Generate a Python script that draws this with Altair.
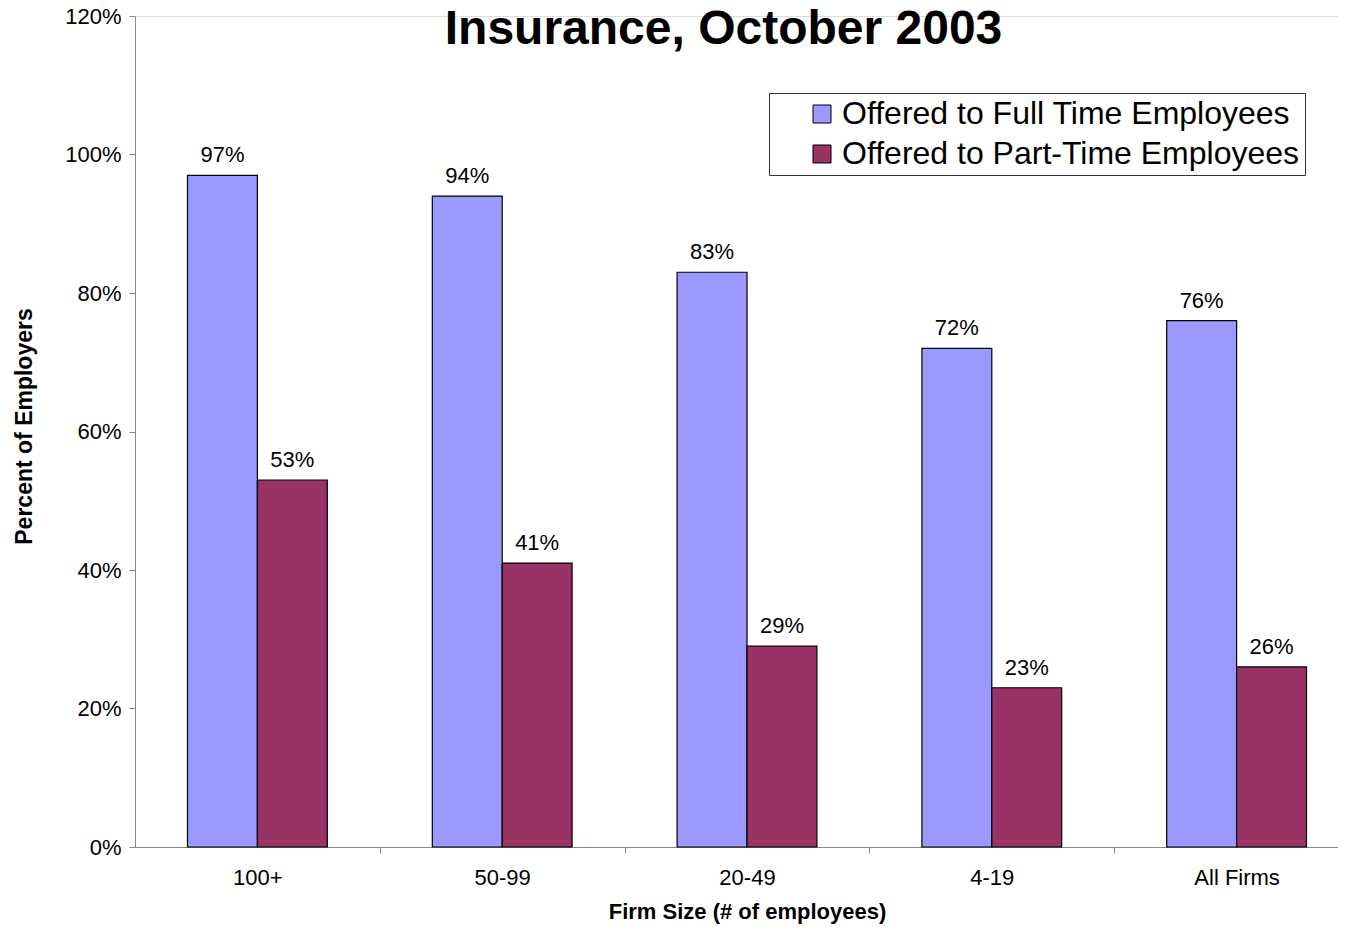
import altair as alt
import pandas as pd

categories = ["100+", "50-99", "20-49", "4-19", "All Firms"]
full_time = [97, 94, 83, 72, 76]
part_time = [53, 41, 29, 23, 26]
series = ["Offered to Full Time Employees", "Offered to Part-Time Employees"]
colors = ["#9999FF", "#993366"]

rows = []
for c, f, p in zip(categories, full_time, part_time):
    rows.append({"cat": c, "series": series[0], "val": f / 100})
    rows.append({"cat": c, "series": series[1], "val": p / 100})
df = pd.DataFrame(rows)

FONT = "Liberation Sans"
STEP = 1224 / len(categories)

x_enc = alt.X("cat:N", sort=categories,
              scale=alt.Scale(range=[0, 1224], paddingInner=0.429, paddingOuter=0.2145),
              axis=alt.Axis(title="Firm Size (# of employees)", labelAngle=0, grid=False,
                            tickOffset=STEP / 2, labelOffset=-STEP / 2,
                            labelFontSize=22, labelPadding=14, tickSize=6,
                            titleFontSize=22, titleFontWeight="bold", titlePadding=13))
xo = alt.XOffset("series:N", sort=series)
y_enc = alt.Y("val:Q", scale=alt.Scale(domain=[0, 1.2], nice=False),
              axis=alt.Axis(title="Percent of Employers", format=".0%", values=[0, 0.2, 0.4, 0.6, 0.8, 1.0, 1.2],
                            grid=False, labelFontSize=22, labelPadding=8, tickSize=6,
                            titleFontSize=23, titleFontWeight="bold", titlePadding=28, titleY=410))

bars = alt.Chart(df).mark_bar(stroke="black", strokeWidth=1.2).encode(
    x=x_enc, xOffset=xo, y=y_enc,
    color=alt.Color("series:N", sort=series,
                    scale=alt.Scale(domain=series, range=colors),
                    legend=alt.Legend(title=None, orient="none", legendX=634, legendY=77,
                                      padding=5, symbolOffset=32, symbolType="square",
                                      symbolSize=324, symbolStrokeColor="black", symbolStrokeWidth=1,
                                      labelFontSize=32, labelOffset=4, rowPadding=8,
                                      strokeColor="#333", fillColor="white",
                                      labelLimit=1000)),
)

labels = alt.Chart(df).mark_text(fontSize=22, dy=-13, baseline="alphabetic", font=FONT, color="black").encode(
    x=alt.X("cat:N", sort=categories), xOffset=xo, y="val:Q",
    text=alt.Text("val:Q", format=".0%"),
)

chart = alt.layer(bars, labels).properties(
    width=1203, height=831,
    padding={"left": 127, "top": 8, "right": 0, "bottom": 78},
    autosize=alt.AutoSizeParams(type="none"),
    title=alt.TitleParams("Insurance, October 2003", fontSize=48, fontWeight="bold",
                          anchor="middle", frame="group", offset=0, dx=-13, dy=49, font=FONT),
).configure_view(stroke=None).configure_axis(
    grid=False, domainColor="#666", tickColor="#666", labelColor="black", titleColor="black",
    labelFont=FONT, titleFont=FONT,
).configure_legend(labelFont=FONT, labelColor="black").configure(background="white")

chart.save("out.html", embed_options={"renderer": "svg", "actions": False})
